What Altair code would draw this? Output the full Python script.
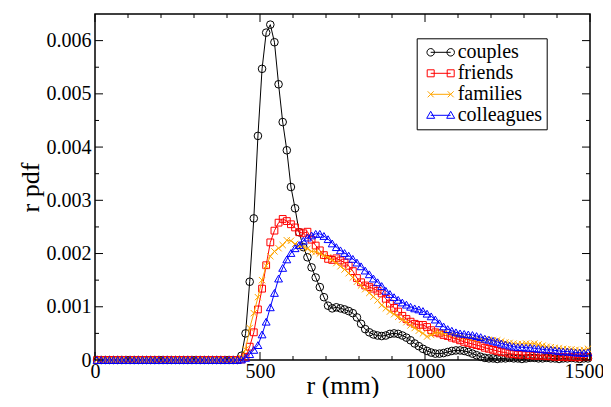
import altair as alt
import pandas as pd

# ---------------- data ----------------
SERIES = ["couples", "friends", "families", "colleagues"]
COLORS = ["#000000", "#ff0000", "#ffa500", "#0000ff"]

BIN_WIDTH = 12.5
R_MM = [BIN_WIDTH / 2 + BIN_WIDTH * k for k in range(120)]

# 0 .. 431.25 mm : every series sits on zero
FLAT_ZERO = [0.0, 0.0, 0.0, 0.0, 0.0, 0.0, 0.0, 0.0, 0.0, 0.0,
             0.0, 0.0, 0.0, 0.0, 0.0, 0.0, 0.0, 0.0, 0.0, 0.0,
             0.0, 0.0, 0.0, 0.0, 0.0, 0.0, 0.0, 0.0, 0.0, 0.0,
             0.0, 0.0, 0.0, 0.0, 0.0]

# 443.75 .. 1493.75 mm
COUPLES = [0.00008, 0.00050, 0.00147, 0.00266, 0.00421, 0.00547, 0.00615, 0.00630, 0.00597, 0.00518,
           0.00447, 0.00394, 0.00325, 0.00285, 0.00240, 0.00212, 0.00193, 0.00174, 0.00155, 0.00137,
           0.00118, 0.00102, 0.00097, 0.00099, 0.00097, 0.00095, 0.00092, 0.00088, 0.00080, 0.00068,
           0.00058, 0.00052, 0.00048, 0.00046, 0.00045, 0.00046, 0.00049, 0.00050, 0.00049, 0.00046,
           0.00042, 0.00037, 0.00031, 0.00026, 0.00021, 0.00017, 0.00014, 0.00012, 0.00012, 0.00013,
           0.00015, 0.00017, 0.00018, 0.00018, 0.00017, 0.00015, 0.00012, 0.00009, 0.00006, 0.00004,
           0.00003, 0.00003, 0.00002, 0.00003, 0.00003, 0.00004, 0.00003, 0.00003, 0.00002, 0.00003,
           0.00004, 0.00004, 0.00003, 0.00003, 0.00004, 0.00003, 0.00003, 0.00002, 0.00003, 0.00003,
           0.00004, 0.00003, 0.00002, 0.00003, 0.00003]

FRIENDS = [0.00001, 0.00006, 0.00025, 0.00052, 0.00095, 0.00134, 0.00178, 0.00221, 0.00243, 0.00258,
           0.00265, 0.00261, 0.00255, 0.00249, 0.00240, 0.00238, 0.00241, 0.00226, 0.00215, 0.00206,
           0.00197, 0.00190, 0.00188, 0.00191, 0.00187, 0.00183, 0.00177, 0.00167, 0.00154, 0.00146,
           0.00140, 0.00137, 0.00134, 0.00130, 0.00125, 0.00115, 0.00106, 0.00098, 0.00091, 0.00083,
           0.00077, 0.00072, 0.00068, 0.00066, 0.00066, 0.00062, 0.00056, 0.00052, 0.00050, 0.00047,
           0.00045, 0.00042, 0.00040, 0.00037, 0.00034, 0.00032, 0.00030, 0.00028, 0.00026, 0.00023,
           0.00021, 0.00019, 0.00017, 0.00015, 0.00014, 0.00012, 0.00011, 0.00010, 0.00010, 0.00009,
           0.00009, 0.00008, 0.00008, 0.00008, 0.00007, 0.00007, 0.00006, 0.00006, 0.00006, 0.00005,
           0.00006, 0.00005, 0.00005, 0.00006, 0.00006]

FAMILIES = [0.00003, 0.00020, 0.00060, 0.00088, 0.00118, 0.00150, 0.00177, 0.00195, 0.00204, 0.00210,
            0.00216, 0.00225, 0.00224, 0.00218, 0.00214, 0.00212, 0.00209, 0.00204, 0.00203, 0.00200,
            0.00196, 0.00193, 0.00188, 0.00182, 0.00176, 0.00170, 0.00163, 0.00155, 0.00147, 0.00140,
            0.00133, 0.00126, 0.00119, 0.00112, 0.00103, 0.00097, 0.00091, 0.00086, 0.00081, 0.00076,
            0.00071, 0.00065, 0.00060, 0.00055, 0.00050, 0.00044, 0.00047, 0.00051, 0.00051, 0.00050,
            0.00050, 0.00049, 0.00047, 0.00045, 0.00043, 0.00042, 0.00041, 0.00040, 0.00039, 0.00039,
            0.00038, 0.00037, 0.00037, 0.00035, 0.00033, 0.00032, 0.00031, 0.00030, 0.00030, 0.00031,
            0.00030, 0.00031, 0.00029, 0.00027, 0.00025, 0.00024, 0.00023, 0.00022, 0.00021, 0.00020,
            0.00020, 0.00019, 0.00018, 0.00019, 0.00021]

COLLEAGUES = [0.00001, 0.00004, 0.00011, 0.00019, 0.00028, 0.00048, 0.00072, 0.00099, 0.00126, 0.00153,
              0.00173, 0.00189, 0.00201, 0.00210, 0.00216, 0.00224, 0.00230, 0.00234, 0.00237, 0.00237,
              0.00233, 0.00227, 0.00219, 0.00212, 0.00206, 0.00201, 0.00196, 0.00190, 0.00183, 0.00176,
              0.00168, 0.00161, 0.00153, 0.00146, 0.00139, 0.00130, 0.00124, 0.00118, 0.00113, 0.00108,
              0.00104, 0.00100, 0.00097, 0.00095, 0.00092, 0.00087, 0.00082, 0.00076, 0.00069, 0.00063,
              0.00058, 0.00055, 0.00052, 0.00050, 0.00049, 0.00048, 0.00047, 0.00045, 0.00043, 0.00040,
              0.00038, 0.00036, 0.00034, 0.00031, 0.00029, 0.00027, 0.00025, 0.00024, 0.00024, 0.00023,
              0.00023, 0.00022, 0.00021, 0.00020, 0.00019, 0.00019, 0.00018, 0.00017, 0.00016, 0.00016,
              0.00015, 0.00014, 0.00014, 0.00013, 0.00014]

X_MAJOR = [0, 500, 1000, 1500]
X_MINOR = [100, 200, 300, 400, 600, 700, 800, 900, 1100, 1200, 1300, 1400]
Y_MAJOR = [0.0, 0.001, 0.002, 0.003, 0.004, 0.005, 0.006]
Y_MINOR = [0.0005, 0.0015, 0.0025, 0.0035, 0.0045, 0.0055]

# ---------------- build tables ----------------
values = {
    "couples": FLAT_ZERO + COUPLES,
    "friends": FLAT_ZERO + FRIENDS,
    "families": FLAT_ZERO + FAMILIES,
    "colleagues": FLAT_ZERO + COLLEAGUES,
}
rows = []
for name in SERIES:
    assert len(values[name]) == len(R_MM), name
    for r, v in zip(R_MM, values[name]):
        rows.append({"r": r, "v": v, "series": name})
df = pd.DataFrame(rows)

W, H = 495, 346
FONT = "'Liberation Serif', 'Times New Roman', Times, 'DejaVu Serif', serif"

# marker shapes (chart)
X_CROSS = "M-1,-1L1,1M-1,1L1,-1"
MARKS = {
    "couples": dict(shape="circle", size=58),
    "friends": dict(shape="square", size=46),
    "families": dict(shape=X_CROSS, size=40),
    "colleagues": dict(shape="triangle-up", size=62),
}

# legend symbols: line with a marker at each end (unit = 5 px for size 100)
def circ(cx, r):
    return (f"M{cx + r},0A{r},{r} 0 1,1 {cx - r},0A{r},{r} 0 1,1 {cx + r},0Z")

LEG_PATHS = [
    "M0,0L4,0" + circ(0, 0.75) + circ(4, 0.75),
    "M0,0L4,0M-0.7,-0.7L0.7,-0.7L0.7,0.7L-0.7,0.7ZM3.3,-0.7L4.7,-0.7L4.7,0.7L3.3,0.7Z",
    "M0,0L4,0M-0.6,-0.6L0.6,0.6M-0.6,0.6L0.6,-0.6M3.4,-0.6L4.6,0.6M3.4,0.6L4.6,-0.6",
    "M0,0L4,0M0,-0.8L0.8,0.6L-0.8,0.6ZM4,-0.8L4.8,0.6L3.2,0.6Z",
]

x_enc = alt.X("r:Q",
              scale=alt.Scale(domain=[0, 1500], nice=False, zero=False),
              axis=alt.Axis(values=X_MAJOR, format="d", title="r (mm)", ticks=False,
                            domain=False, grid=False, labelFlush=False,
                            labelFont=FONT, labelFontSize=20, labelColor="black",
                            labelPadding=1,
                            labelOffset=alt.condition("datum.value == 1500",
                                                      alt.value(-6), alt.value(0)),
                            titleFont=FONT, titleFontSize=26,
                            titleFontWeight="normal", titleColor="black",
                            titleY=33, titleBaseline="alphabetic"))
y_enc = alt.Y("v:Q",
              scale=alt.Scale(domain=[0, 0.0065], nice=False, zero=False),
              axis=alt.Axis(values=Y_MAJOR, format=".3~f", title="r pdf", ticks=False,
                            domain=False, grid=False, labelFlush=False,
                            labelFont=FONT, labelFontSize=20, labelColor="black",
                            labelPadding=4, titleFont=FONT, titleFontSize=26,
                            titleFontWeight="normal", titleColor="black", titlePadding=3))

base = alt.Chart(df)
layers = []
first = True
for name, color in zip(SERIES, COLORS):
    sub = base.transform_filter(alt.datum.series == name)
    if first:
        line = sub.mark_line(color=color, strokeWidth=1).encode(x=x_enc, y=y_enc)
        first = False
    else:
        line = sub.mark_line(color=color, strokeWidth=1).encode(x="r:Q", y="v:Q")
    pts = sub.mark_point(filled=False, color=color, strokeWidth=1, opacity=1,
                         **MARKS[name]).encode(x="r:Q", y="v:Q")
    layers += [line, pts]

legend_spec = alt.Legend(orient="none", legendX=321.7, legendY=24.3, title=None,
                         strokeColor="black", padding=4, fillColor="white",
                         labelFont=FONT, labelFontSize=20, labelColor="black",
                         labelOffset=17, rowPadding=1, symbolSize=100,
                         symbolStrokeWidth=1, labelLimit=0, symbolOpacity=1)
legend_layer = base.transform_filter(alt.datum.r < 0).mark_point(
    filled=False, size=100, strokeWidth=1).encode(
    shape=alt.Shape("series:N", scale=alt.Scale(domain=SERIES, range=LEG_PATHS),
                    legend=legend_spec),
    color=alt.Color("series:N", scale=alt.Scale(domain=SERIES, range=COLORS),
                    legend=legend_spec),
)
layers.append(legend_layer)

# inward ticks on all four sides
xmaj = alt.Chart(pd.DataFrame({"r": X_MAJOR}))
xmin = alt.Chart(pd.DataFrame({"r": X_MINOR}))
ymaj = alt.Chart(pd.DataFrame({"v": Y_MAJOR}))
ymin = alt.Chart(pd.DataFrame({"v": Y_MINOR}))
TK = dict(color="black", strokeWidth=1)
layers += [
    xmaj.mark_rule(**TK).encode(x="r:Q", y=alt.value(H), y2=alt.value(H - 8)),
    xmaj.mark_rule(**TK).encode(x="r:Q", y=alt.value(0), y2=alt.value(8)),
    xmin.mark_rule(**TK).encode(x="r:Q", y=alt.value(H), y2=alt.value(H - 4)),
    xmin.mark_rule(**TK).encode(x="r:Q", y=alt.value(0), y2=alt.value(4)),
    ymaj.mark_rule(**TK).encode(y="v:Q", x=alt.value(0), x2=alt.value(8)),
    ymaj.mark_rule(**TK).encode(y="v:Q", x=alt.value(W), x2=alt.value(W - 8)),
    ymin.mark_rule(**TK).encode(y="v:Q", x=alt.value(0), x2=alt.value(4)),
    ymin.mark_rule(**TK).encode(y="v:Q", x=alt.value(W), x2=alt.value(W - 4)),
]

chart = alt.layer(*layers).properties(
    width=W, height=H,
    autosize=alt.AutoSizeParams(type="none"),
    padding={"left": 87, "top": 6, "right": 13, "bottom": 38},
    background="white",
).configure(font=FONT).configure_view(
    stroke="black", strokeWidth=1.5
).configure_axis(labelFont=FONT, titleFont=FONT).configure_legend(labelFont=FONT)

chart.save("out.html", embed_options={"renderer": "svg", "actions": False})
